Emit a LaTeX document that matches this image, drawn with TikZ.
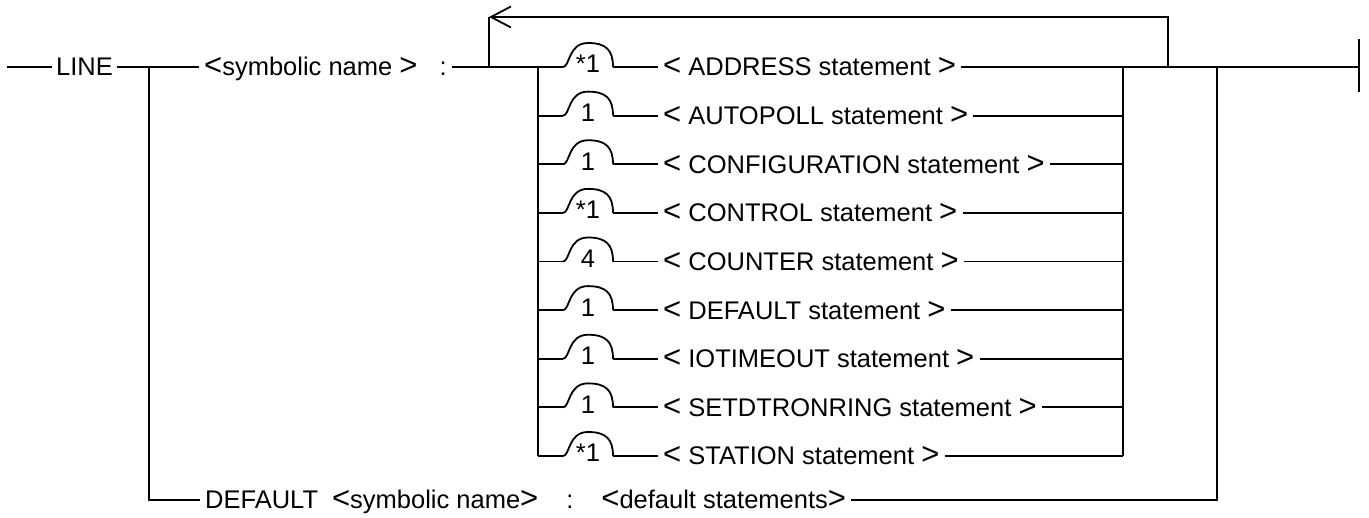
\documentclass[tikz,border=0pt]{standalone}
\usepackage{fontspec}
\setmainfont{Liberation Sans}
\usetikzlibrary{arrows.meta}
\newcommand\ltb{{\fontsize{31}{30}\selectfont<}}
\newcommand\gtb{{\fontsize{31}{30}\selectfont>}}
\begin{document}
\begin{tikzpicture}[x=1pt,y=-1pt,
  rail/.style={line width=1.8pt, line join=miter},
  txt/.style={font=\fontsize{25.5}{30}\selectfont, inner ysep=0pt, text height=18pt, text depth=0pt, anchor=west},
  stmt/.style={txt, inner xsep=5pt},
  num/.style={font=\fontsize{25.5}{30}\selectfont, anchor=base, inner sep=0pt},
  bump/.pic={\draw[rail] (0,0) .. controls (7,0) and (5,-24) .. (25,-24) .. controls (43,-24) and (50,-17) .. (50,0);}]
\useasboundingbox (0,0) rectangle (1369,518);

% main line, left part
\coordinate (start) at (7,67);
\node[txt, inner xsep=4pt] (line) at (52,67) {LINE};
\coordinate (br) at (149,67);
\node[stmt] (sym) at (199,67) {\ltb symbolic name \gtb\hspace{22pt}:};
\coordinate (lp) at (489,67);
\coordinate (ltl) at (489,17);
\coordinate (ltr) at (1168,17);
\coordinate (lr) at (1168,67);
\coordinate (ir) at (1123,67);
\coordinate (orr) at (1217,67);
\coordinate (fin) at (1359,67);
\coordinate (barT) at (1359,39);
\coordinate (barB) at (1359,92);

\draw[rail] (start) -- (line.west);
\draw[rail] (line.east) -- (br) -- (sym.west);
\draw[rail] (sym.east) -- (lp) -- (538,67);

% rows
\foreach \i/\n/\kw in {0/{*1}/ADDRESS,1/1/AUTOPOLL,2/1/CONFIGURATION,3/{*1}/CONTROL,4/4/COUNTER,5/1/DEFAULT,6/1/IOTIMEOUT,7/1/SETDTRONRING,8/{*1}/STATION}{
  \pgfmathsetmacro\yy{67+48.625*\i}
  \coordinate (a\i) at (538,\yy);
  \coordinate (b\i) at (563,\yy);
  \coordinate (c\i) at (613,\yy);
  \coordinate (e\i) at (1123,\yy);
  \draw[rail] (a\i) -- (b\i);
  \pic at (b\i) {bump};
  \node[num] (n\i) at (588,\yy+6) {\n};
  \node[stmt] (s\i) at (658,\yy) {\ltb\ \kw\ statement \gtb};
  \draw[rail] (c\i) -- (s\i.west);
}
\foreach \i in {1,...,8}{\draw[rail] (s\i.east) -- (e\i);}

\draw[rail] (a0) -- (a8);
\draw[rail] (e0) -- (e8);
\draw[rail] (s0.east) -- (ir) -- (lr) -- (orr) -- (fin);

% loop with arrow
\draw[rail, -{Straight Barb[length=20pt,width=21pt]}] (lr) -- (ltr) -- (ltl);
\draw[rail] (ltl) -- (lp);

% bottom DEFAULT branch
\coordinate (bl) at (149,500);
\coordinate (obr) at (1217,500);
\node[stmt] (dflt) at (200,500) {DEFAULT\hspace{14pt}\ltb symbolic name\gtb\hspace{28pt}:\hspace{28pt}\ltb default statements\gtb};
\draw[rail] (br) -- (bl) -- (dflt.west);
\draw[rail] (dflt.east) -- (obr) -- (orr);

% end bar
\draw[line width=2.8pt] (barT) -- (barB);
\end{tikzpicture}
\end{document}
